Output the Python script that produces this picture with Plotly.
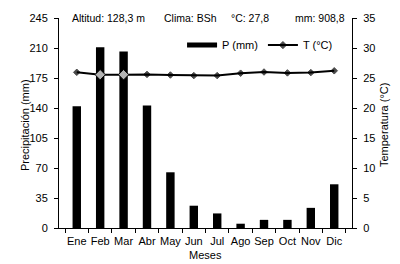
import plotly.graph_objects as go

months = ["Ene", "Feb", "Mar", "Abr", "May", "Jun", "Jul", "Ago", "Sep", "Oct", "Nov", "Dic"]
precip = [142, 211, 206, 143, 65, 26, 17, 5, 9.5, 9.5, 23.5, 51]
temp = [25.95, 25.55, 25.55, 25.6, 25.5, 25.4, 25.4, 25.8, 26.0, 25.85, 25.9, 26.2]
marker_fill = ["black", "white", "white", "black", "black", "black", "black", "black", "black", "black", "black", "black"]
marker_size = [5, 8, 8, 5, 5, 5, 5, 5, 5, 5, 5, 5]
left_ticks = [0, 35, 70, 105, 140, 175, 210, 245]
right_ticks = [0, 5, 10, 15, 20, 25, 30, 35]
header = [("Altitud: 128,3 m", 0.0375), ("Clima: BSh", 0.3515), ("°C: 27,8", 0.58), ("mm: 908,8", 0.799)]

FONT = "Liberation Sans, Arial, sans-serif"

fig = go.Figure()
fig.add_trace(go.Bar(x=months, y=precip, name="P (mm)", marker=dict(color="black", line=dict(width=0)),
                     yaxis="y", showlegend=False))
# legend entry for precipitation drawn as a flat wide block (legend only)
fig.add_trace(go.Scatter(x=[None], y=[None], name="P (mm)", mode="lines", line=dict(color="black", width=5),
                         yaxis="y"))
fig.add_trace(go.Scatter(x=months, y=temp, name="T (°C)", mode="lines+markers", yaxis="y2",
                         line=dict(color="black", width=2),
                         marker=dict(symbol="diamond", size=marker_size, color=marker_fill,
                                     line=dict(color="black", width=1))))

for txt, xp in header:
    fig.add_annotation(text=txt, x=xp, y=1.0, xref="paper", yref="paper", xanchor="left", yanchor="middle",
                       showarrow=False, font=dict(size=10.5, color="black", family=FONT))

# axis titles
fig.add_annotation(text="Precipitación (mm)", x=-0.116, y=0.49, xref="paper", yref="paper", textangle=-90,
                   xanchor="center", yanchor="middle", showarrow=False, font=dict(size=11, family=FONT))
fig.add_annotation(text="Temperatura (°C)", x=1.109, y=0.49, xref="paper", yref="paper", textangle=-90,
                   xanchor="center", yanchor="middle", showarrow=False, font=dict(size=11, family=FONT))
fig.add_annotation(text="Meses", x=0.5, y=-0.129, xref="paper", yref="paper",
                   xanchor="center", yanchor="middle", showarrow=False, font=dict(size=11, family=FONT))

fig.update_layout(
    width=392, height=256,
    margin=dict(l=51, r=48, t=10, b=36, autoexpand=False),
    paper_bgcolor="white", plot_bgcolor="white",
    font=dict(family=FONT, size=11, color="black"),
    bargap=0.64,
    showlegend=True,
    legend=dict(orientation="h", x=0.42, y=0.871, xanchor="left", yanchor="middle",
                bgcolor="rgba(0,0,0,0)", font=dict(size=11), itemwidth=30, tracegroupgap=0),
    xaxis=dict(type="category", showline=True, linecolor="black", linewidth=1, ticks="outside",
               tickson="boundaries", ticklen=4, tickcolor="black", showgrid=False, tickangle=0,
               automargin=False, ticklabelstandoff=3, tickfont=dict(size=11)),
    yaxis=dict(range=[0, 245], tickvals=left_ticks, showline=True, linecolor="black", linewidth=1,
               ticks="outside", ticklen=4, tickcolor="black", showgrid=False, zeroline=False,
               automargin=False, ticklabelstandoff=4, tickfont=dict(size=11)),
    yaxis2=dict(range=[0, 35], tickvals=right_ticks, overlaying="y", side="right", showline=True,
                linecolor="black", linewidth=1, ticks="outside", ticklen=4, tickcolor="black",
                showgrid=False, zeroline=False, automargin=False, ticklabelstandoff=4,
                tickfont=dict(size=11)),
)

fig.write_html("out.html")
